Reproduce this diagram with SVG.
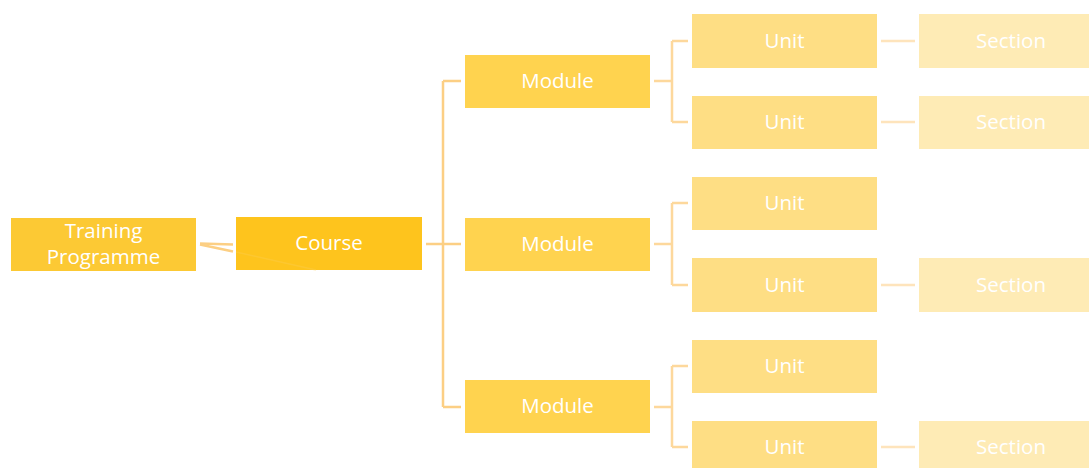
<svg xmlns="http://www.w3.org/2000/svg" width="1089" height="468" viewBox="0 0 1089 468">
<style>
text{font-family:"Open Sans","Liberation Sans",sans-serif;font-size:20.5px;fill:#FFFFFF;text-anchor:middle}
.tp{fill:#FCC934}
.course{fill:#FEC41D}
.module{fill:#FFD34F}
.unit{fill:#FEDE84}
.section{fill:#FEEBB5}
.c1{stroke:#FCCF84;stroke-width:2.5;fill:none}
.c2{stroke:#FDD89C;stroke-width:2.5;fill:none}
.c3{stroke:#FEE4BC;stroke-width:2.5;fill:none}
</style>
<rect width="1089" height="468" fill="#FFFFFF"/>
<g id="connectors">
<line class="c1" x1="200" y1="243.5" x2="233" y2="244.5"/>
<line class="c1" x1="200" y1="244.5" x2="233" y2="251.5"/>
<path class="c1" d="M426 244H443M443 81V407M443 81H461M443 244H461M443 407H461"/>
<path class="c2" d="M654 81H672M672 41V122M672 41H688M672 122H688"/>
<path class="c2" d="M654 244H672M672 203V285M672 203H688M672 285H688"/>
<path class="c2" d="M654 407H672M672 366V447M672 366H688M672 447H688"/>
<path class="c3" d="M881 41H915M881 122H915M881 285H915M881 447H915"/>
</g>
<g id="tp"><rect class="tp" x="11" y="218" width="185" height="53"/><text x="103.5" y="238">Training</text><text x="103.5" y="264">Programme</text></g>
<g id="course"><rect class="course" x="236" y="217" width="186" height="53"/><line x1="236" y1="252" x2="316" y2="270" stroke="#FDCF55" stroke-width="1.5" opacity="0.35"/><text x="329" y="250">Course</text></g>
<g id="module1"><rect class="module" x="465" y="55" width="185" height="53"/><text x="557.5" y="88">Module</text></g>
<g id="module2"><rect class="module" x="465" y="218" width="185" height="53"/><text x="557.5" y="251">Module</text></g>
<g id="module3"><rect class="module" x="465" y="380" width="185" height="53"/><text x="557.5" y="413">Module</text></g>
<g id="unit1"><rect class="unit" x="692" y="14" width="185" height="54"/><text x="784.5" y="48">Unit</text></g>
<g id="unit2"><rect class="unit" x="692" y="96" width="185" height="53"/><text x="784.5" y="129">Unit</text></g>
<g id="unit3"><rect class="unit" x="692" y="177" width="185" height="53"/><text x="784.5" y="210">Unit</text></g>
<g id="unit4"><rect class="unit" x="692" y="258" width="185" height="54"/><text x="784.5" y="292">Unit</text></g>
<g id="unit5"><rect class="unit" x="692" y="340" width="185" height="53"/><text x="784.5" y="373">Unit</text></g>
<g id="unit6"><rect class="unit" x="692" y="421" width="185" height="53"/><text x="784.5" y="454">Unit</text></g>
<g id="section1"><rect class="section" x="919" y="14" width="185" height="54"/><text x="1011" y="48">Section</text></g>
<g id="section2"><rect class="section" x="919" y="96" width="185" height="53"/><text x="1011" y="129">Section</text></g>
<g id="section3"><rect class="section" x="919" y="258" width="185" height="54"/><text x="1011" y="292">Section</text></g>
<g id="section4"><rect class="section" x="919" y="421" width="185" height="53"/><text x="1011" y="454">Section</text></g>
</svg>
